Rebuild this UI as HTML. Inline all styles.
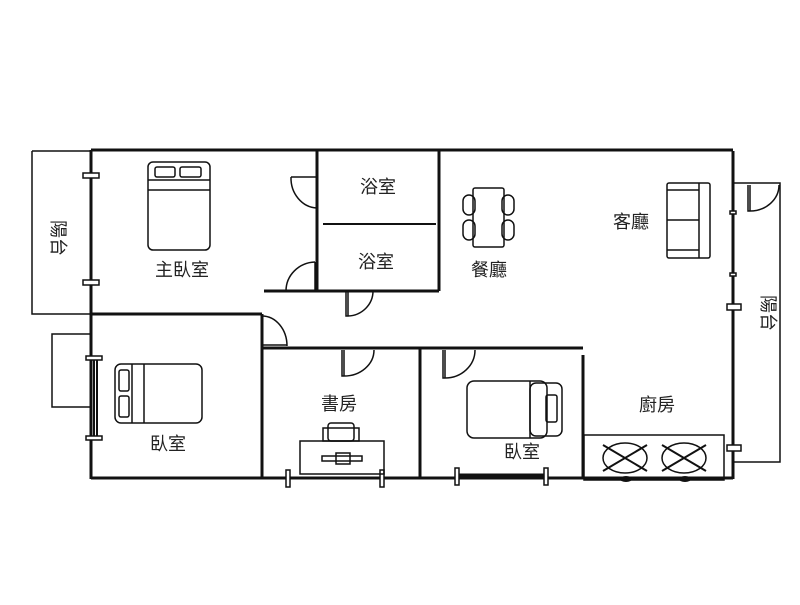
<!DOCTYPE html>
<html><head><meta charset="utf-8"><style>
body{margin:0;background:#fff}
svg text{font-family:"Liberation Sans","Noto Sans CJK TC",sans-serif;font-size:18px;fill:#222}
</style></head><body>
<svg width="800" height="600" viewBox="0 0 800 600" xmlns="http://www.w3.org/2000/svg">
<rect width="800" height="600" fill="#fff"/>
<g stroke="#111" fill="none" stroke-width="3">
<path d="M91 150 H733 M91 150 V479 M91 478 H733 M733 151 V479"/>
<path d="M91 314 H262 M262 314 V479 M317 150 V291 M439 150 V291 M264 291 H439"/>
<path d="M262 348 H583 M420 348 V479 M583 355 V479"/>
</g>
<g stroke="#111" fill="none" stroke-width="1.5">
<path d="M32 151 H91 M32 151 V314 H91"/>
<path d="M91 334 H52 V407 H91"/>
<path d="M733 183 H780 V462 H733"/>
<path d="M323 224 H436" stroke-width="2"/>
<path d="M291 177 H317 M291 177 A27 30 0 0 0 317 208"/>
<path d="M315 262 V291 M315 262 A30 29 0 0 0 286 291"/>
<path d="M346 291 V316 H348 V291 M348 291 H373 A26 25 0 0 1 348 316"/>
<path d="M262 345 H287 M262 316 A25 30 0 0 1 287 346"/>
<path d="M342 350 V376 H344 V350 M374 350 A30 26 0 0 1 344 376"/>
<path d="M443 350 V378 H445 V350 M475 350 A30 28 0 0 1 445 378"/>
<path d="M748 185 V211 H750 V185 M779 185 A29 26 0 0 1 750 211"/>
<rect x="83" y="173" width="16" height="5" fill="#fff"/>
<rect x="83" y="280" width="16" height="5" fill="#fff"/>
<rect x="86" y="356" width="16" height="4" fill="#fff"/>
<rect x="86" y="436" width="16" height="4" fill="#fff"/>
<path d="M94 360 V436 M97 360 V436" stroke-width="2"/>
<rect x="286" y="470" width="4" height="17" fill="#fff"/>
<rect x="380" y="470" width="4" height="17" fill="#fff"/>
<rect x="455" y="468" width="4" height="17" fill="#fff"/>
<rect x="544" y="468" width="4" height="17" fill="#fff"/>
<path d="M459 475 H544" stroke-width="3"/>
<rect x="730" y="211" width="6" height="3" fill="#fff"/>
<rect x="730" y="273" width="6" height="3" fill="#fff"/>
<rect x="727" y="304" width="14" height="6" fill="#fff"/>
<rect x="727" y="445" width="14" height="6" fill="#fff"/>
<rect x="148" y="162" width="62" height="88" rx="5"/>
<path d="M148 180 H210 M148 190 H210"/>
<rect x="155" y="167" width="20" height="10" rx="2"/><rect x="180" y="167" width="21" height="10" rx="2"/>
<rect x="115" y="364" width="87" height="59" rx="6"/>
<path d="M132 364 V423 M144 364 V423"/>
<rect x="119" y="370" width="10" height="21" rx="2"/><rect x="119" y="396" width="10" height="21" rx="2"/>
<rect x="467" y="381" width="80" height="57" rx="7"/>
<rect x="530" y="383" width="32" height="53" rx="6"/>
<path d="M530 381 V438"/>
<rect x="546" y="395" width="11" height="27" rx="2"/>
<rect x="300" y="441" width="84" height="33"/>
<rect x="323" y="428" width="36" height="13"/>
<rect x="328" y="423" width="26" height="18" rx="3"/>
<rect x="322" y="456" width="40" height="5"/>
<rect x="336" y="453" width="14" height="11"/>
<rect x="473" y="188" width="31" height="59" rx="2"/>
<rect x="463" y="195" width="12" height="20" rx="6"/><rect x="463" y="220" width="12" height="20" rx="6"/>
<rect x="502" y="195" width="12" height="20" rx="6"/><rect x="502" y="220" width="12" height="20" rx="6"/>
<rect x="667" y="183" width="43" height="75" rx="2"/>
<path d="M699 183 V258 M667 190 H699 M667 220 H699 M667 250 H699"/>
<rect x="584" y="435" width="140" height="45"/>
<ellipse cx="625" cy="458" rx="22" ry="15"/><ellipse cx="684" cy="458" rx="22" ry="15"/>
<path d="M603 445 L647 471 M603 471 L647 445 M662 445 L706 471 M662 471 L706 445" stroke-width="2"/>
</g>
<ellipse cx="626" cy="479" rx="6" ry="3" fill="#111"/>
<ellipse cx="685" cy="479" rx="6" ry="3" fill="#111"/>
<text x="155" y="276">主臥室</text>
<text x="360" y="193">浴室</text>
<text x="358" y="268">浴室</text>
<text x="471" y="276">餐廳</text>
<text x="613" y="228">客廳</text>
<text x="150" y="450">臥室</text>
<text x="321" y="410">書房</text>
<text x="504" y="458">臥室</text>
<text x="639" y="411">廚房</text>
<text x="44" y="228" transform="rotate(90 52 228)">陽台</text>
<text x="754" y="303" transform="rotate(90 762 303)">陽台</text>
</svg>
</body></html>
